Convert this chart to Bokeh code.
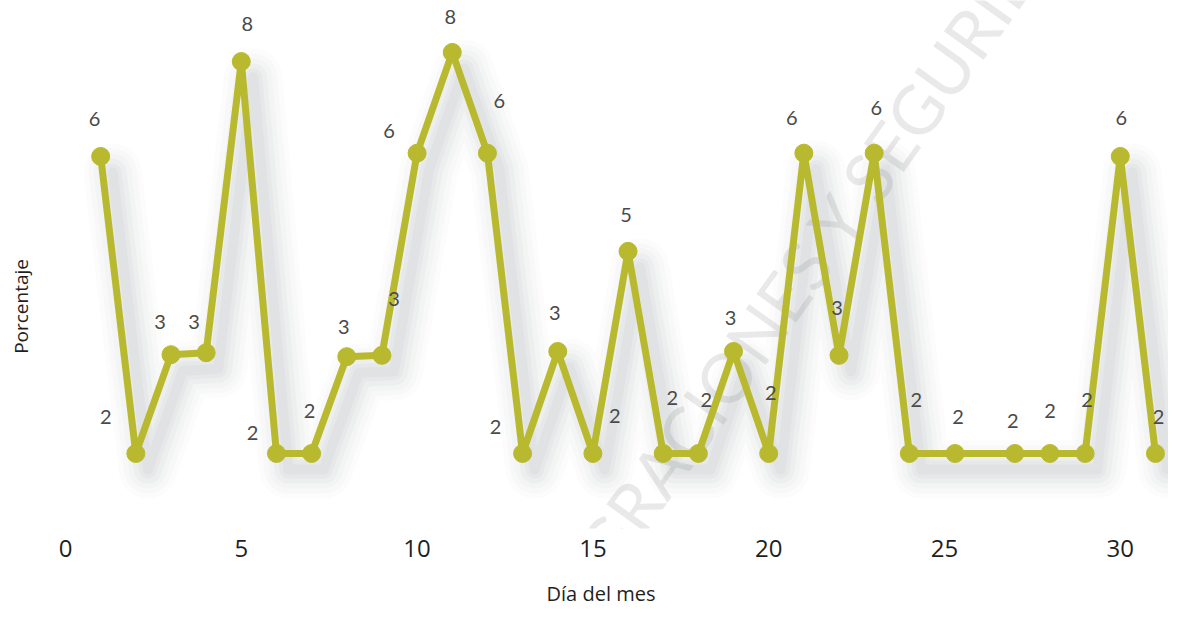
from bokeh.plotting import figure
from bokeh.models import ColumnDataSource, FixedTicker, Range1d, Label
from bokeh.core.properties import value
from bokeh.embed import file_html
from bokeh.resources import INLINE

# ---- data ----
dias = [1, 2, 3, 4, 5, 6, 7, 8, 9, 10, 11, 12, 13, 14, 15, 16, 17, 18, 19, 20,
        21, 22, 23, 24, 25.3, 27, 28, 29, 30, 31]
porcentaje = [6.77, 2.2, 3.72, 3.75, 8.23, 2.2, 2.2, 3.69, 3.71, 6.82, 8.37, 6.82,
              2.2, 3.77, 2.2, 5.31, 2.2, 2.2, 3.77, 2.2, 6.82, 3.71, 6.82, 2.2,
              2.2, 2.2, 2.2, 2.2, 6.77, 2.2]
etiquetas = [str(int(v)) for v in porcentaje]
x_ticks = [0, 5, 10, 15, 20, 25, 30]
titulo_x = "Día del mes"
titulo_y = "Porcentaje"
marca_agua = "INTEGRACIONES Y SEGURIDAD"

# ---- label placement (screen px offsets, style only) ----
lbl_dx = [-6, -30, -11, -12, 6, -24, -2, -3, 12, -28, -2, 12, -27, -3, 22, -2, 9, 8,
          -3, 2, -12, -2, 2, 7, 3, -2, 0, 2, 1, 3]
lbl_dy = [-37, -36, -33, -31, -38, -20, -42, -30, -56, -22, -35, -52, -26, -38, -37,
          -36, -55, -53, -33, -60, -35, -47, -45, -53, -36, -32, -42, -53, -38, -36]

OLIVE = "#b9b92f"
PX_X = 35.16   # pixels per day
PX_Y = 65.0    # pixels per unit

src = ColumnDataSource(dict(x=dias, y=porcentaje, t=etiquetas, dx=lbl_dx, dy=lbl_dy))
sh = ColumnDataSource(dict(x=[d + 12 / PX_X for d in dias],
                           y=[v - 16 / PX_Y for v in porcentaje]))

p = figure(width=1168, height=609, output_backend="svg", toolbar_location=None,
           x_range=Range1d(-0.910, 31.371), y_range=Range1d(1.046, 9.169),
           min_border=0, min_border_left=33,
           background_fill_color="white", border_fill_color="white")
p.outline_line_color = None
p.grid.visible = False

# watermark
p.add_layout(Label(x=20.73, y=4.88, text=marca_agua, angle=0.951,
                   text_font="Lato", text_font_size="68px", text_color="#e9e9e9",
                   text_align="center", text_baseline="middle", level="underlay"))

# blurred shadow
for w, a in [(58, 0.025), (48, 0.03), (38, 0.035), (28, 0.045), (18, 0.055), (10, 0.06)]:
    p.line("x", "y", source=sh, line_width=w, line_color="#7d838e", line_alpha=a,
           line_join="round", line_cap="round")

p.line("x", "y", source=src, line_width=7, line_color=OLIVE, line_join="round")
p.scatter("x", "y", source=src, size=18, fill_color=OLIVE, line_color=OLIVE)

p.text("x", "y", text="t", source=src, x_offset="dx", y_offset="dy",
       text_font=value("Lato"), text_font_size="20px", text_color="#4a4a4a",
       text_align="center", text_baseline="middle")

# axes
xa = p.xaxis[0]
xa.ticker = FixedTicker(ticks=x_ticks)
xa.axis_line_color = None
xa.major_tick_line_color = None
xa.minor_tick_line_color = None
xa.major_label_standoff = 5
xa.major_label_text_font = "Open Sans"
xa.major_label_text_font_size = "24px"
xa.major_label_text_color = "#1f1f1f"
xa.axis_label = titulo_x
xa.axis_label_standoff = 20
xa.axis_label_text_font = "Open Sans"
xa.axis_label_text_font_size = "20px"
xa.axis_label_text_font_style = "normal"
xa.axis_label_text_color = "#1f1f1f"

ya = p.yaxis[0]
ya.ticker = FixedTicker(ticks=[])
ya.axis_line_color = None
ya.major_tick_line_color = None
ya.minor_tick_line_color = None
ya.major_label_standoff = 0
ya.major_tick_out = 0
# trailing no-break spaces move the centred title down the axis, as in the reference
ya.axis_label = titulo_y + "\u00a0" * 17
ya.axis_label_standoff = 0
ya.axis_label_text_font = "Open Sans"
ya.axis_label_text_font_size = "19px"
ya.axis_label_text_font_style = "normal"
ya.axis_label_text_color = "#1f1f1f"

open("out.html", "w").write(file_html(p, INLINE))
